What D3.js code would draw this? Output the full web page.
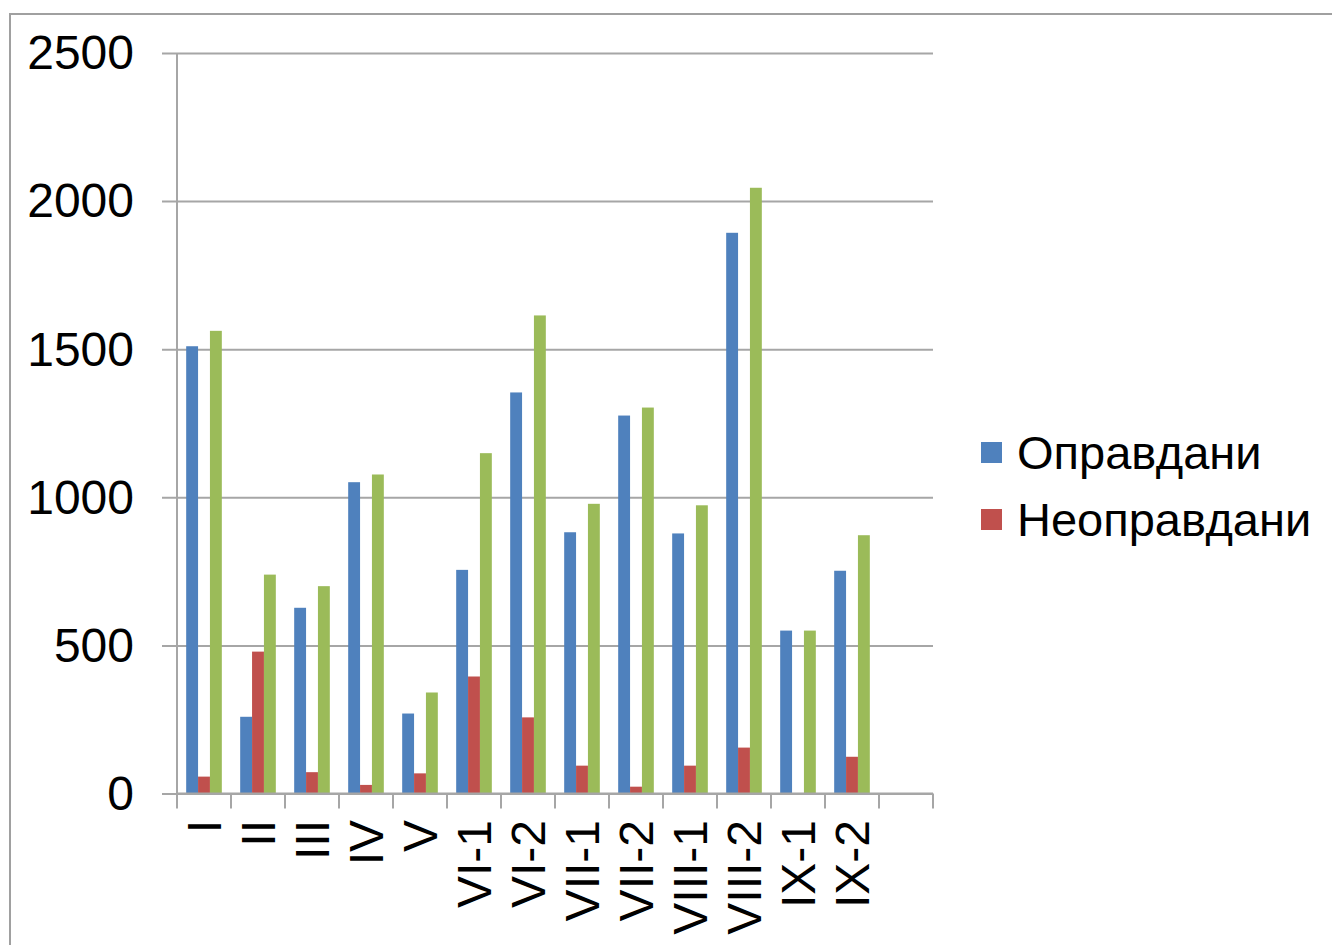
<!DOCTYPE html>
<html>
<head>
<meta charset="utf-8">
<script src="https://cdn.jsdelivr.net/npm/d3@7"></script>
<style>
    body { margin: 0; background: #fff; }
</style>
</head>
<body>
<div id="chart"></div>
<script>
let categories = ["I", "II", "III", "IV", "V", "VI-1", "VI-2", "VII-1", "VII-2", "VIII-1", "VIII-2", "IX-1", "IX-2"];
let opravdani = [1510, 259, 627, 1051, 270, 755, 1354, 882, 1276, 878, 1893, 550, 752];
let neopravdani = [57, 479, 72, 29, 68, 395, 257, 94, 23, 94, 155, 0, 124];
let vkupno = [1562, 739, 700, 1077, 341, 1149, 1614, 978, 1303, 973, 2045, 550, 872];
let seriesNames = ["Оправдани", "Неоправдани", ""];
let seriesColors = ["#4f81bd", "#c0504d", "#9bbb59"];
let yTicks = [0, 500, 1000, 1500, 2000, 2500];

let width = 1332,
    height = 945;

let plot = {left: 177, right: 933, top: 53, bottom: 793.5};

let svg = d3.select("#chart").append("svg")
    .attr("width", width)
    .attr("height", height)
    .attr("font-family", "Liberation Sans, Arial, sans-serif");

// frame of the chart area, cut off at right and bottom
svg.append("path")
    .attr("d", "M10," + height + "V14H" + width)
    .attr("fill", "none")
    .attr("stroke", "#a0a0a0")
    .attr("stroke-width", 2);

// one empty slot after the last category
let slots = categories.concat([" "]);

let x0 = d3.scaleBand()
    .domain(slots)
    .range([plot.left, plot.right])
    .paddingInner(0.34)
    .paddingOuter(0.17);

let step = x0.step();
let slotStart = function (d) { return x0(d) - x0.paddingOuter() * step; };

let x1 = d3.scaleBand()
    .domain([0, 1, 2])
    .range([0, x0.bandwidth()]);

let y = d3.scaleLinear()
    .domain([0, 2500])
    .range([plot.bottom, plot.top]);

// gridlines with the tick labels
let yAxis = svg.append("g")
    .attr("transform", "translate(" + plot.left + ",0)")
    .call(d3.axisLeft(y).tickValues(yTicks).tickSize(-(plot.right - plot.left)).tickPadding(0).tickFormat(d3.format("d")));
yAxis.select(".domain").remove();
yAxis.selectAll(".tick line")
    .attr("x1", -15)
    .attr("stroke", "#a6a6a6")
    .attr("stroke-width", 2);
yAxis.selectAll(".tick text")
    .attr("x", -43)
    .attr("dy", "0.33em")
    .attr("font-size", 48)
    .attr("fill", "#000");

// vertical axis line
svg.append("line")
    .attr("x1", plot.left).attr("x2", plot.left)
    .attr("y1", plot.top).attr("y2", plot.bottom)
    .attr("stroke", "#a6a6a6")
    .attr("stroke-width", 2);

let rows = categories.map(function (c, i) {
    return {name: c, values: [opravdani[i], neopravdani[i], vkupno[i]]};
});

// bars
let group = svg.append("g").selectAll("g")
    .data(rows)
    .enter().append("g")
    .attr("transform", function (d) { return "translate(" + x0(d.name) + ",0)"; });

group.selectAll("rect")
    .data(function (d) { return d.values; })
    .enter().append("rect")
    .attr("x", function (d, i) { return x1(i); })
    .attr("y", function (d) { return y(d); })
    .attr("width", x1.bandwidth())
    .attr("height", function (d) { return plot.bottom - y(d); })
    .attr("fill", function (d, i) { return seriesColors[i]; });

// category axis with ticks between the slots
let tickPos = slots.map(slotStart).concat([plot.right]);
svg.append("line")
    .attr("x1", plot.left).attr("x2", plot.right)
    .attr("y1", plot.bottom).attr("y2", plot.bottom)
    .attr("stroke", "#a6a6a6")
    .attr("stroke-width", 2);
svg.append("g").selectAll("line")
    .data(tickPos)
    .enter().append("line")
    .attr("x1", function (d) { return d; })
    .attr("x2", function (d) { return d; })
    .attr("y1", plot.bottom)
    .attr("y2", plot.bottom + 15)
    .attr("stroke", "#a6a6a6")
    .attr("stroke-width", 2);

svg.append("g").selectAll("text")
    .data(categories)
    .enter().append("text")
    .attr("transform", function (d) {
        return "translate(" + (slotStart(d) + step / 2) + "," + 820 + ")rotate(-90)";
    })
    .attr("text-anchor", "end")
    .attr("dy", "0.35em")
    .attr("font-size", 48)
    .attr("fill", "#000")
    .text(function (d) { return d; });

// legend, only the two named series
let legend = svg.append("g").selectAll("g")
    .data(seriesNames.filter(function (d) { return d; }))
    .enter().append("g")
    .attr("transform", function (d, i) { return "translate(981," + (442 + i * 67) + ")"; });

legend.append("rect")
    .attr("width", 21)
    .attr("height", 21)
    .attr("fill", function (d, i) { return seriesColors[i]; });

legend.append("text")
    .attr("x", 36)
    .attr("y", 10.5)
    .attr("dy", "0.35em")
    .attr("font-size", 47)
    .attr("fill", "#000")
    .text(function (d) { return d; });
</script>
</body>
</html>
